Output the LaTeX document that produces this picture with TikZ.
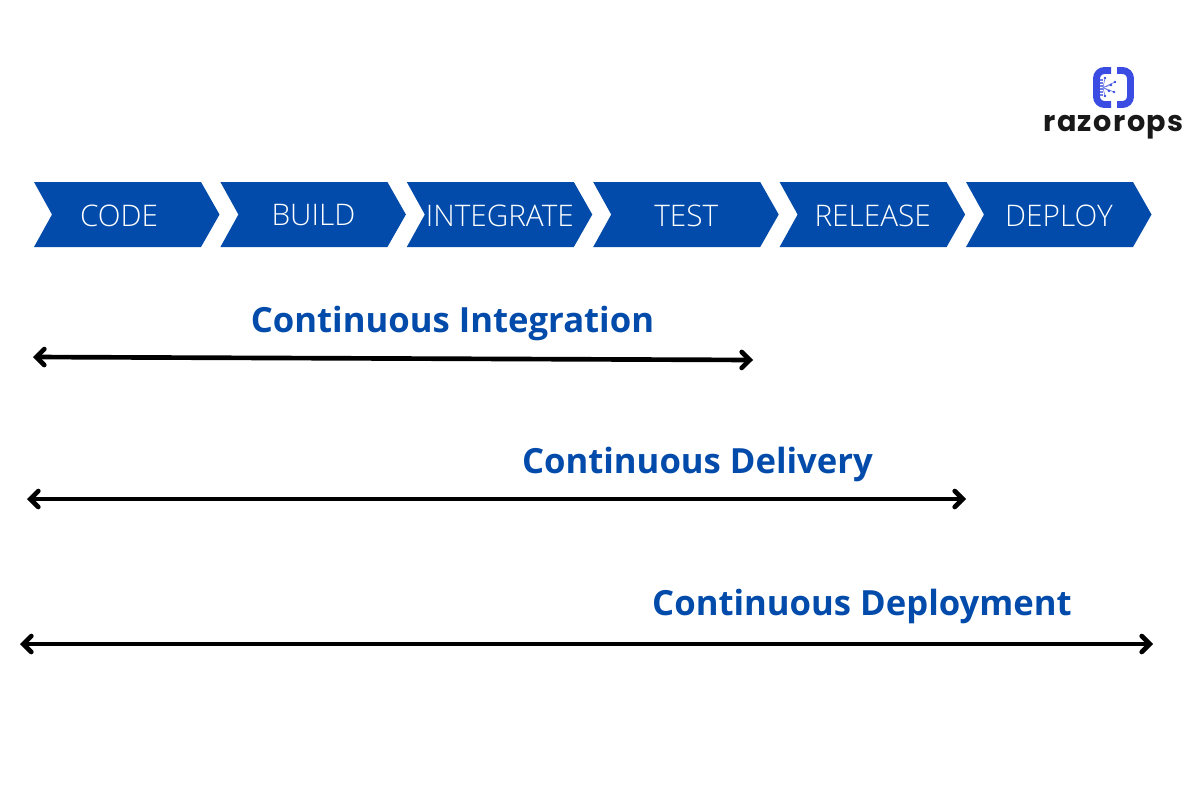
\documentclass[tikz,border=0pt]{standalone}
\usepackage{fontspec}
\setmainfont{Open Sans}
\newfontfamily\stagefont{Open Sans Light}
\newfontfamily\logofont[LetterSpace=5]{Poppins}
\usetikzlibrary{arrows.meta,calc}
\definecolor{stageblue}{RGB}{2,75,170}
\definecolor{logoblue}{RGB}{58,76,226}
\definecolor{traceblue}{RGB}{110,125,232}
\newcommand{\stagechevron}{\fill[stageblue] (0,0)--(167,0)--(185.5,32.5)--(167,65)--(0,65)--(18,32.5)--cycle;}
\tikzset{stagelabel/.style={text=white,font=\stagefont\fontsize{22.3}{22.3}\selectfont},
  spanlabel/.style={text=stageblue,font=\bfseries\fontsize{26}{26}\selectfont},
  spanarrow/.style={line width=3.5pt,{Straight Barb[length=6pt,width=12pt,line cap=round]}-{Straight Barb[length=6pt,width=12pt,line cap=round]}}}
\begin{document}
\begin{tikzpicture}[x=.75pt,y=-.75pt]
\useasboundingbox (0,0) rectangle (1200,800);
\fill[white] (0,0) rectangle (1200,800);
% stages
\begin{scope}[shift={(34,182)}]\stagechevron\node[stagelabel] (code) at (85,33.5){CODE};\end{scope}
\begin{scope}[shift={(220.4,182)}]\stagechevron\node[stagelabel] (build) at (93,33.5){BUILD};\end{scope}
\begin{scope}[shift={(406.8,182)}]\stagechevron\node[stagelabel] (integrate) at (93,33.5){INTEGRATE};\end{scope}
\begin{scope}[shift={(593.2,182)}]\stagechevron\node[stagelabel] (test) at (93,33.5){TEST};\end{scope}
\begin{scope}[shift={(779.6,182)}]\stagechevron\node[stagelabel] (release) at (93,33.5){RELEASE};\end{scope}
\begin{scope}[shift={(966,182)}]\stagechevron\node[stagelabel] (deploy) at (93,33.5){DEPLOY};\end{scope}
% spans
\node[spanlabel] (ci) at (452.5,323){Continuous Integration};
\coordinate (cistart) at (33,357);
\coordinate (ciend) at (753,360);
\draw[spanarrow] (cistart)--(ciend);
\node[spanlabel] (cdl) at (697.5,464){Continuous Delivery};
\coordinate (cdlstart) at (27,499);
\coordinate (cdlend) at (966,499);
\draw[spanarrow] (cdlstart)--(cdlend);
\node[spanlabel] (cdp) at (862,606){Continuous Deployment};
\coordinate (cdpstart) at (20,644);
\coordinate (cdpend) at (1153,644);
\draw[spanarrow] (cdpstart)--(cdpend);
% logo
\draw[logoblue,line width=5.2pt,rounded corners=6pt] (1111,70.5)--(1096.5,70.5)--(1096.5,104.5)--(1111,104.5);
\draw[logoblue,line width=5.2pt,rounded corners=6pt] (1117,70.5)--(1130.5,70.5)--(1130.5,104.5)--(1117,104.5);
\foreach \y in {80,83,86,89,92,95}{\draw[traceblue,line width=.8pt] (1100,\y)--(1103,\y);}
\foreach \x/\y in {1105/78,1115/82,1111/85,1114/92,1109/91,1105/96}{
  \draw[traceblue,line width=.5pt] (1103,87.5)--(\x,\y);
  \fill[logoblue] (\x,\y) circle(1.1pt);}
\node[font=\logofont\bfseries\fontsize{21.5}{21.5}\selectfont,text=black!90] (logo) at (1113.5,127.5){razorops};
\end{tikzpicture}
\end{document}
